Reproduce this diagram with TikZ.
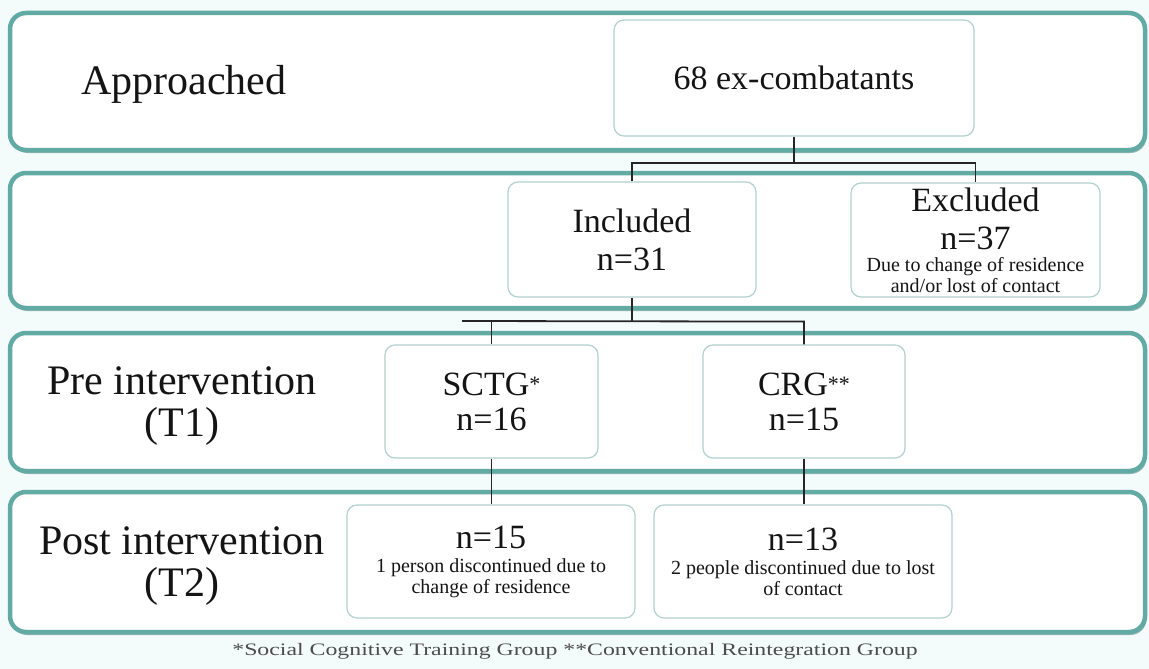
\documentclass[tikz,border=0pt]{standalone}
\usepackage{fontspec}
\setmainfont{Liberation Serif}
\usepackage{graphicx}
\usetikzlibrary{positioning, calc, shadows}

\definecolor{bandteal}{RGB}{98,170,164}
\definecolor{boxedge}{RGB}{178,210,206}
\definecolor{pagebg}{RGB}{244,251,251}
\definecolor{inktext}{RGB}{20,20,20}

\newcommand{\notefont}{\fontsize{20}{21}\selectfont}
\newcommand{\starmark}[1]{\raisebox{4pt}{\fontsize{22}{22}\selectfont #1}}

\begin{document}
\begin{tikzpicture}[
    x=1pt, y=-1pt,
    every node/.style={text=inktext, align=center},
    band/.style={draw=bandteal, line width=4.5pt, rounded corners=16pt, fill=white,
        inner sep=0pt, minimum width=1135pt,
        drop shadow={shadow xshift=1.5pt, shadow yshift=-3pt, fill=bandteal!75!black, opacity=0.55}},
    stage/.style={font=\fontsize{42}{42}\selectfont, inner sep=0pt},
    group box/.style={draw=boxedge, line width=1.2pt, rounded corners=10pt, fill=white,
        inner sep=0pt, font=\fontsize{34}{38}\selectfont},
    link/.style={line width=1.8pt, draw=black!85},
    caption/.style={text=black!70, font=\fontsize{17.5}{17.5}\selectfont}
]

    % === Canvas ===
    \fill[pagebg] (0,0) rectangle (1149,669);
    \useasboundingbox (0,0) rectangle (1149,669);

    % === Bands ===
    \node[band, minimum height=137pt] (band1) at (577.5,81.5) {};
    \node[band, minimum height=135pt] (band2) at (577.5,240.5) {};
    \node[band, minimum height=138pt] (band3) at (577.5,402) {};
    \node[band, minimum height=140pt] (band4) at (577.5,562) {};

    % === Stage labels ===
    \node[stage, anchor=base] (approached) at (184,95) {Approached};
    \node[stage] (pre) at (182,406) {Pre intervention\\(T1)};
    \node[stage] (post) at (182,566) {Post intervention\\(T2)};

    % === Group boxes ===
    \node[group box, minimum width=360pt, minimum height=116pt] (total) at (794,78) {68 ex-combatants};

    \node[group box, minimum width=248pt, minimum height=115pt] (included) at (632,239.5)
        {Included\\n=31};
    \node[group box, minimum width=249pt, minimum height=114pt] (excluded) at (975.5,240)
        {Excluded\\n=37\\[-16pt]{\notefont Due to change of residence}\\[-17pt]{\notefont and/or lost of contact}};

    \node[group box, minimum width=213pt, minimum height=113pt] (sctg) at (491.5,401.5)
        {SCTG\starmark{*}\\[-3pt]n=16};
    \node[group box, minimum width=202pt, minimum height=113pt] (crg) at (804,401.5)
        {CRG\starmark{**}\\[-3pt]n=15};

    \node[group box, minimum width=288pt, minimum height=113pt] (post1) at (491,561.5)
        {n=15\\[-14pt]{\notefont 1 person discontinued due to}\\[-17pt]{\notefont change of residence}};
    \node[group box, minimum width=298pt, minimum height=113pt] (post2) at (803,561.5)
        {n=13\\[-14pt]{\notefont 2 people discontinued due to lost}\\[-17pt]{\notefont of contact}};

    % === Connectors ===
    \coordinate (split1) at ($(total.south)+(0,26)$);
    \draw[link] (total.south) -- (split1);
    \draw[link] (included.north) |- (split1) -| (excluded.north);

    \coordinate (split2) at ($(included.south)+(0,24)$);
    \coordinate (stub) at (462,321);
    \draw[link] (included.south) -- (split2);
    \draw[link] (stub) -- (split2 -| crg.north) -- (crg.north);
    \draw[link] (sctg.north |- split2) -- (sctg.north);

    \draw[link] (sctg.south) -- (sctg.south |- post1.north);
    \draw[link] (crg.south) -- (crg.south |- post2.north);

    % === Footnote ===
    \node[caption] (legend) at (575,651)
        {\scalebox{1.36}[1]{*Social Cognitive Training Group **Conventional Reintegration Group}};

\end{tikzpicture}
\end{document}
